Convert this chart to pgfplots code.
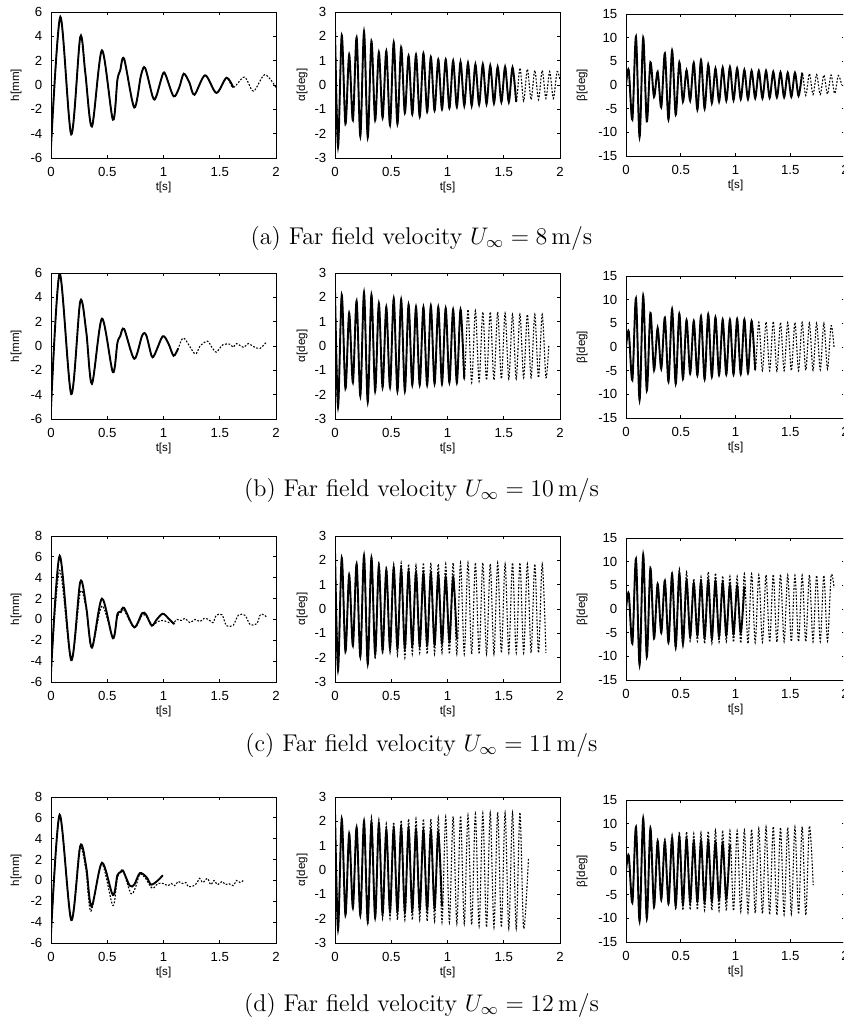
\documentclass[border=0pt]{standalone}
\usepackage{fontspec}
\usepackage{pgfplots}
\usepackage{pgfplotstable}
\pgfplotsset{compat=1.18}
\newfontfamily\gpfont{Liberation Sans}
\newcommand\tickf{\gpfont\fontsize{6.6}{7.5}\selectfont}
\newcommand\labf{\gpfont\fontsize{5.8}{6.5}\selectfont}
\newcommand\capf{\fontsize{12.1}{14}\selectfont}

% heave h [mm]
\pgfplotstableread[row sep=\\]{t y\\ 0 -5.1\\ 0.083 5.6\\ 0.180 -4.05\\ 0.260 3.95\\ 0.305 1.0\\ 0.364 -3.4\\ 0.453 2.85\\ 0.550 -2.85\\ 0.590 0.4\\ 0.615 1.2\\ 0.650 2.15\\ 0.740 -1.85\\ 0.800 0.8\\ 0.837 1.4\\ 0.905 -1.0\\ 0.935 -0.95\\ 0.994 0.9\\ 1.020 0.8\\ 1.090 -0.93\\ 1.140 -0.2\\ 1.180 0.93\\ 1.230 0.2\\ 1.275 -0.8\\ 1.370 0.8\\ 1.470 -0.65\\ 1.560 0.6\\ 1.620 -0.2\\ 1.720 0.65\\ 1.800 -0.5\\ 1.900 0.85\\ 2.000 -0.2\\}\height
\pgfplotstableread[row sep=\\]{t y\\ 0 -5.1\\ 0.077 5.95\\ 0.180 -3.95\\ 0.260 3.67\\ 0.313 1.2\\ 0.364 -3.1\\ 0.453 2.25\\ 0.550 -2.15\\ 0.590 0.25\\ 0.615 0.8\\ 0.650 1.4\\ 0.740 -1.05\\ 0.810 0.85\\ 0.846 0.9\\ 0.896 -0.85\\ 0.926 -0.6\\ 0.994 0.8\\ 1.044 0.2\\ 1.090 -0.8\\ 1.130 -0.2\\ 1.180 0.65\\ 1.280 -0.65\\ 1.325 0.0\\ 1.390 0.4\\ 1.430 -0.1\\ 1.470 -0.5\\ 1.527 0.1\\ 1.590 0.15\\ 1.620 -0.1\\ 1.650 0.2\\ 1.710 -0.1\\ 1.754 0.2\\ 1.800 -0.05\\ 1.858 -0.2\\ 1.917 0.35\\}\hten
\pgfplotstableread[row sep=\\]{t y\\ 0 -5.1\\ 0.077 6.1\\ 0.180 -3.9\\ 0.260 3.6\\ 0.313 1.2\\ 0.364 -2.7\\ 0.453 2.0\\ 0.550 -1.8\\ 0.590 0.5\\ 0.620 0.7\\ 0.650 1.1\\ 0.740 -0.75\\ 0.810 0.6\\ 0.846 0.45\\ 0.896 -0.6\\ 0.940 0.0\\ 0.994 0.55\\ 1.044 0.1\\ 1.090 -0.4\\ 1.100 -0.35\\}\helevs
\pgfplotstableread[row sep=\\]{t y\\ 0 -5.1\\ 0.077 4.7\\ 0.180 -3.9\\ 0.260 2.6\\ 0.313 1.0\\ 0.364 -2.7\\ 0.453 1.3\\ 0.550 -1.7\\ 0.590 0.2\\ 0.640 1.0\\ 0.740 -0.8\\ 0.810 0.4\\ 0.846 0.3\\ 0.900 -0.5\\ 0.950 -0.2\\ 1.000 -0.1\\ 1.050 -0.3\\ 1.100 -0.2\\ 1.120 0.0\\ 1.160 -0.1\\ 1.190 0.1\\ 1.236 -0.3\\ 1.280 0.0\\ 1.325 -0.2\\ 1.360 0.1\\ 1.400 0.0\\ 1.440 -0.3\\ 1.470 0.4\\ 1.520 0.45\\ 1.560 -0.6\\ 1.620 -0.55\\ 1.665 0.4\\ 1.725 0.4\\ 1.770 -0.5\\ 1.830 -0.4\\ 1.864 0.5\\ 1.917 0.25\\}\helevd
\pgfplotstableread[row sep=\\]{t y\\ 0 -5.1\\ 0.077 6.3\\ 0.180 -3.8\\ 0.260 3.3\\ 0.313 1.3\\ 0.360 -2.5\\ 0.453 1.7\\ 0.550 -1.4\\ 0.590 0.5\\ 0.620 0.8\\ 0.640 0.95\\ 0.700 -0.5\\ 0.740 -0.4\\ 0.790 0.7\\ 0.850 0.3\\ 0.890 -0.4\\ 0.950 0.0\\ 0.994 0.5\\}\htwes
\pgfplotstableread[row sep=\\]{t y\\ 0 -5.1\\ 0.077 6.2\\ 0.180 -3.8\\ 0.255 3.1\\ 0.310 1.0\\ 0.355 -2.95\\ 0.450 1.6\\ 0.550 -2.4\\ 0.590 0.2\\ 0.640 0.85\\ 0.710 -1.25\\ 0.750 -0.7\\ 0.790 0.6\\ 0.840 0.2\\ 0.900 -0.75\\ 0.950 -0.3\\ 1.000 -0.3\\ 1.040 -0.5\\ 1.070 -0.3\\ 1.100 -0.5\\ 1.130 -0.1\\ 1.170 -0.3\\ 1.200 -0.2\\ 1.220 -0.6\\ 1.270 -0.5\\ 1.300 -0.2\\ 1.320 0.2\\ 1.350 -0.2\\ 1.390 0.2\\ 1.420 -0.4\\ 1.450 0.0\\ 1.480 -0.4\\ 1.520 -0.1\\ 1.550 -0.4\\ 1.580 -0.3\\ 1.620 -0.5\\ 1.650 0.0\\ 1.680 -0.2\\ 1.710 0.0\\}\htwed

% pitch alpha [deg]
\pgfplotstableread[row sep=\\]{t y\\ 0 2.3\\ 0.027 -2.55\\ 0.060 2.05\\ 0.093 -1.6\\ 0.126 1.25\\ 0.159 -1.45\\ 0.192 1.95\\ 0.225 -2.1\\ 0.258 2.2\\ 0.291 -2.15\\ 0.324 1.8\\ 0.357 -1.45\\ 0.390 1.35\\ 0.423 -1.35\\ 0.456 1.4\\ 0.489 -1.65\\ 0.522 1.75\\ 0.555 -1.6\\ 0.588 1.55\\ 0.621 -1.15\\ 0.654 1.2\\ 0.687 -1.2\\ 0.720 1.25\\ 0.753 -1.3\\ 0.786 1.3\\ 0.819 -1.1\\ 0.852 1.15\\ 0.885 -1.05\\ 0.918 1.05\\ 0.951 -1.0\\ 0.984 1.05\\ 1.017 -0.95\\ 1.050 1.0\\ 1.083 -0.9\\ 1.116 0.95\\ 1.149 -0.85\\ 1.182 0.9\\ 1.215 -0.85\\ 1.248 0.85\\ 1.281 -0.8\\ 1.314 0.85\\ 1.347 -0.78\\ 1.380 0.8\\ 1.413 -0.75\\ 1.446 0.75\\ 1.479 -0.7\\ 1.512 0.75\\ 1.545 -0.7\\ 1.578 0.72\\ 1.611 -0.7\\ 1.644 0.7\\ 1.677 -0.65\\ 1.710 0.65\\ 1.743 -0.6\\ 1.776 0.6\\ 1.809 -0.6\\ 1.842 0.6\\ 1.875 -0.55\\ 1.908 0.55\\ 1.941 -0.55\\ 1.974 0.55\\ 2.000 0.2\\}\aeight
\pgfplotstableread[row sep=\\]{t y\\ 0 2.3\\ 0.027 -2.5\\ 0.060 2.1\\ 0.093 -1.75\\ 0.126 1.35\\ 0.159 -1.5\\ 0.192 1.85\\ 0.225 -2.05\\ 0.258 2.2\\ 0.291 -2.3\\ 0.324 2.1\\ 0.357 -1.85\\ 0.390 1.75\\ 0.423 -1.7\\ 0.456 1.6\\ 0.489 -1.7\\ 0.522 1.95\\ 0.555 -1.85\\ 0.588 1.9\\ 0.621 -1.85\\ 0.654 1.7\\ 0.687 -1.6\\ 0.720 1.6\\ 0.753 -1.6\\ 0.786 1.6\\ 0.819 -1.6\\ 0.852 1.65\\ 0.885 -1.55\\ 0.918 1.6\\ 0.951 -1.55\\ 0.984 1.55\\ 1.017 -1.5\\ 1.050 1.5\\ 1.083 -1.5\\ 1.116 1.5\\ 1.149 -1.35\\ 1.182 1.5\\ 1.215 -1.5\\ 1.248 1.45\\ 1.281 -1.45\\ 1.314 1.4\\ 1.347 -1.4\\ 1.380 1.4\\ 1.413 -1.4\\ 1.446 1.4\\ 1.479 -1.35\\ 1.512 1.35\\ 1.545 -1.35\\ 1.578 1.3\\ 1.611 -1.35\\ 1.644 1.3\\ 1.677 -1.3\\ 1.710 1.3\\ 1.743 -1.3\\ 1.776 1.3\\ 1.809 -1.3\\ 1.842 1.3\\ 1.875 -1.3\\ 1.900 0.0\\}\aten
\pgfplotstableread[row sep=\\]{t y\\ 0 2.4\\ 0.027 -2.5\\ 0.060 2.1\\ 0.093 -1.75\\ 0.126 1.4\\ 0.159 -1.5\\ 0.192 1.85\\ 0.225 -1.95\\ 0.258 2.2\\ 0.291 -2.25\\ 0.324 2.1\\ 0.357 -1.85\\ 0.390 1.75\\ 0.423 -1.7\\ 0.456 1.6\\ 0.489 -1.6\\ 0.522 1.7\\ 0.555 -1.6\\ 0.588 1.65\\ 0.621 -1.6\\ 0.654 1.55\\ 0.687 -1.5\\ 0.720 1.5\\ 0.753 -1.5\\ 0.786 1.45\\ 0.819 -1.45\\ 0.852 1.45\\ 0.885 -1.45\\ 0.918 1.4\\ 0.951 -1.4\\ 0.984 1.3\\ 1.017 -1.3\\ 1.050 1.3\\ 1.083 -1.25\\}\aelevs
\pgfplotstableread[row sep=\\]{t y\\ 0 2.4\\ 0.027 -2.5\\ 0.060 2.1\\ 0.093 -1.75\\ 0.126 1.4\\ 0.159 -1.5\\ 0.192 1.85\\ 0.225 -2.0\\ 0.258 2.2\\ 0.291 -2.3\\ 0.324 2.15\\ 0.357 -2.05\\ 0.390 1.95\\ 0.423 -1.85\\ 0.456 1.75\\ 0.489 -1.8\\ 0.522 1.85\\ 0.555 -1.9\\ 0.588 1.9\\ 0.621 -2.0\\ 0.654 1.85\\ 0.687 -1.85\\ 0.720 1.8\\ 0.753 -1.8\\ 0.786 1.9\\ 0.819 -1.85\\ 0.852 1.9\\ 0.885 -1.85\\ 0.918 1.85\\ 0.951 -1.8\\ 0.984 1.85\\ 1.017 -1.85\\ 1.050 1.9\\ 1.083 -1.85\\ 1.116 1.9\\ 1.149 -1.85\\ 1.182 1.9\\ 1.215 -1.85\\ 1.248 1.9\\ 1.281 -1.85\\ 1.314 1.9\\ 1.347 -1.85\\ 1.380 1.85\\ 1.413 -1.85\\ 1.446 1.9\\ 1.479 -1.8\\ 1.512 1.85\\ 1.545 -1.8\\ 1.578 1.9\\ 1.611 -1.8\\ 1.644 1.9\\ 1.677 -1.8\\ 1.710 1.85\\ 1.743 -1.8\\ 1.776 1.85\\ 1.809 -1.8\\ 1.842 1.85\\ 1.875 -1.8\\}\aelevd
\pgfplotstableread[row sep=\\]{t y\\ 0 2.4\\ 0.027 -2.45\\ 0.060 2.1\\ 0.093 -1.85\\ 0.126 1.5\\ 0.159 -1.55\\ 0.192 1.75\\ 0.225 -1.85\\ 0.258 2.0\\ 0.291 -2.1\\ 0.324 1.95\\ 0.357 -1.95\\ 0.390 1.9\\ 0.423 -1.8\\ 0.456 1.65\\ 0.489 -1.7\\ 0.522 1.7\\ 0.555 -1.7\\ 0.588 1.75\\ 0.621 -1.7\\ 0.654 1.7\\ 0.687 -1.65\\ 0.720 1.65\\ 0.753 -1.6\\ 0.786 1.6\\ 0.819 -1.6\\ 0.852 1.6\\ 0.885 -1.55\\ 0.918 1.55\\ 0.951 -1.5\\}\atwes
\pgfplotstableread[row sep=\\]{t y\\ 0 2.4\\ 0.027 -2.45\\ 0.060 2.1\\ 0.093 -1.85\\ 0.126 1.5\\ 0.159 -1.55\\ 0.192 1.75\\ 0.225 -1.9\\ 0.258 2.0\\ 0.291 -2.25\\ 0.324 2.18\\ 0.357 -2.05\\ 0.390 2.07\\ 0.423 -2.0\\ 0.456 1.9\\ 0.489 -2.0\\ 0.522 1.97\\ 0.555 -2.05\\ 0.588 2.04\\ 0.621 -2.05\\ 0.654 2.1\\ 0.687 -2.05\\ 0.720 2.1\\ 0.753 -2.05\\ 0.786 2.1\\ 0.819 -2.1\\ 0.852 2.1\\ 0.885 -2.1\\ 0.918 2.15\\ 0.951 -2.15\\ 0.984 2.18\\ 1.017 -2.15\\ 1.050 2.2\\ 1.083 -2.2\\ 1.116 2.23\\ 1.149 -2.2\\ 1.182 2.25\\ 1.215 -2.25\\ 1.248 2.3\\ 1.281 -2.3\\ 1.314 2.33\\ 1.347 -2.35\\ 1.380 2.35\\ 1.413 -2.35\\ 1.446 2.37\\ 1.479 -2.35\\ 1.512 2.35\\ 1.545 -2.4\\ 1.578 2.35\\ 1.611 -2.4\\ 1.644 2.37\\ 1.677 -2.4\\ 1.720 0.5\\}\atwed

% flap beta [deg]
\pgfplotstableread[row sep=\\]{t y\\ 0 0\\ 0.025 3.2\\ 0.058 -7.3\\ 0.091 10.2\\ 0.124 -11.0\\ 0.157 10.0\\ 0.190 -7.7\\ 0.223 4.8\\ 0.256 -2.5\\ 0.289 2.8\\ 0.322 -4.7\\ 0.355 6.7\\ 0.388 -7.3\\ 0.421 7.3\\ 0.454 -6.3\\ 0.487 4.8\\ 0.520 -3.5\\ 0.553 3.1\\ 0.586 -3.3\\ 0.619 4.7\\ 0.652 -5.2\\ 0.685 5.3\\ 0.718 -5.0\\ 0.751 4.3\\ 0.784 -3.8\\ 0.817 3.5\\ 0.850 -3.5\\ 0.883 3.7\\ 0.916 -3.3\\ 0.949 3.8\\ 0.982 -3.2\\ 1.015 3.5\\ 1.048 -3.0\\ 1.081 3.2\\ 1.114 -3.0\\ 1.147 3.0\\ 1.180 -2.8\\ 1.213 3.0\\ 1.246 -2.8\\ 1.279 3.0\\ 1.312 -2.7\\ 1.345 2.8\\ 1.378 -2.6\\ 1.411 2.7\\ 1.444 -2.6\\ 1.477 2.6\\ 1.510 -2.5\\ 1.543 2.6\\ 1.576 -2.3\\ 1.609 2.6\\ 1.642 -2.2\\ 1.675 2.4\\ 1.708 -2.0\\ 1.741 2.2\\ 1.774 -2.0\\ 1.807 2.1\\ 1.840 -1.9\\ 1.873 2.1\\ 1.906 -1.8\\ 1.939 2.0\\ 1.970 0\\}\beight
\pgfplotstableread[row sep=\\]{t y\\ 0 0\\ 0.025 3.3\\ 0.058 -7.0\\ 0.091 10.3\\ 0.124 -11.2\\ 0.157 10.8\\ 0.190 -9.2\\ 0.223 7.2\\ 0.256 -4.9\\ 0.289 4.0\\ 0.322 -4.6\\ 0.355 6.2\\ 0.388 -7.3\\ 0.421 8.0\\ 0.454 -7.8\\ 0.487 7.0\\ 0.520 -6.7\\ 0.553 5.7\\ 0.586 -5.6\\ 0.619 5.5\\ 0.652 -6.0\\ 0.685 6.5\\ 0.718 -6.8\\ 0.751 6.9\\ 0.784 -6.3\\ 0.817 6.3\\ 0.850 -5.9\\ 0.883 5.8\\ 0.916 -5.8\\ 0.949 5.8\\ 0.982 -5.8\\ 1.015 5.9\\ 1.048 -5.7\\ 1.081 5.8\\ 1.114 -5.5\\ 1.147 5.5\\ 1.180 -4.8\\ 1.213 5.2\\ 1.246 -5.0\\ 1.279 5.3\\ 1.312 -5.0\\ 1.345 5.4\\ 1.378 -5.1\\ 1.411 5.2\\ 1.444 -5.0\\ 1.477 5.2\\ 1.510 -5.0\\ 1.543 5.2\\ 1.576 -5.0\\ 1.609 5.2\\ 1.642 -4.9\\ 1.675 5.1\\ 1.708 -4.9\\ 1.741 5.1\\ 1.774 -4.8\\ 1.807 5.0\\ 1.840 -4.6\\ 1.873 4.5\\ 1.900 0\\}\bten
\pgfplotstableread[row sep=\\]{t y\\ 0 0\\ 0.025 3.3\\ 0.058 -7.3\\ 0.091 10.6\\ 0.124 -11.8\\ 0.157 11.5\\ 0.190 -10.0\\ 0.223 8.6\\ 0.256 -6.2\\ 0.289 5.3\\ 0.322 -5.0\\ 0.355 6.0\\ 0.388 -7.0\\ 0.421 7.3\\ 0.454 -8.0\\ 0.487 7.5\\ 0.520 -7.3\\ 0.553 6.0\\ 0.586 -5.8\\ 0.619 5.5\\ 0.652 -5.5\\ 0.685 5.8\\ 0.718 -6.0\\ 0.751 6.0\\ 0.784 -6.2\\ 0.817 5.8\\ 0.850 -5.8\\ 0.883 5.5\\ 0.916 -5.5\\ 0.949 5.0\\ 0.982 -5.2\\ 1.015 4.8\\ 1.048 -5.0\\ 1.081 4.8\\}\belevs
\pgfplotstableread[row sep=\\]{t y\\ 0 0\\ 0.025 3.3\\ 0.058 -7.3\\ 0.091 10.6\\ 0.124 -11.8\\ 0.157 11.5\\ 0.190 -10.3\\ 0.223 8.7\\ 0.256 -6.3\\ 0.289 5.5\\ 0.322 -5.3\\ 0.355 6.1\\ 0.388 -7.3\\ 0.421 7.8\\ 0.454 -8.5\\ 0.487 8.5\\ 0.520 -8.0\\ 0.553 7.8\\ 0.586 -6.8\\ 0.619 6.4\\ 0.652 -6.8\\ 0.685 6.8\\ 0.718 -7.3\\ 0.751 7.8\\ 0.784 -7.3\\ 0.817 7.6\\ 0.850 -7.0\\ 0.883 7.0\\ 0.916 -6.9\\ 0.949 6.9\\ 0.982 -7.0\\ 1.015 6.9\\ 1.048 -7.2\\ 1.081 7.4\\ 1.114 -7.3\\ 1.147 7.4\\ 1.180 -7.1\\ 1.213 7.2\\ 1.246 -7.0\\ 1.279 7.2\\ 1.312 -7.0\\ 1.345 7.3\\ 1.378 -7.0\\ 1.411 7.3\\ 1.444 -6.9\\ 1.477 7.2\\ 1.510 -6.9\\ 1.543 7.1\\ 1.576 -6.9\\ 1.609 7.1\\ 1.642 -6.9\\ 1.675 7.2\\ 1.708 -6.9\\ 1.741 7.1\\ 1.774 -6.9\\ 1.807 7.1\\ 1.840 -6.8\\ 1.873 7.0\\ 1.900 4.5\\}\belevd
\pgfplotstableread[row sep=\\]{t y\\ 0 0\\ 0.025 3.3\\ 0.058 -6.7\\ 0.091 9.3\\ 0.124 -10.6\\ 0.157 11.1\\ 0.190 -10.0\\ 0.223 9.0\\ 0.256 -7.5\\ 0.289 6.3\\ 0.322 -6.0\\ 0.355 6.2\\ 0.388 -6.8\\ 0.421 7.0\\ 0.454 -7.3\\ 0.487 7.3\\ 0.520 -7.0\\ 0.553 6.8\\ 0.586 -6.5\\ 0.619 6.2\\ 0.652 -6.3\\ 0.685 6.3\\ 0.718 -6.5\\ 0.751 6.3\\ 0.784 -6.3\\ 0.817 6.0\\ 0.850 -6.0\\ 0.883 5.8\\ 0.916 -5.8\\ 0.949 5.5\\}\btwes
\pgfplotstableread[row sep=\\]{t y\\ 0 0\\ 0.025 3.3\\ 0.058 -6.7\\ 0.091 9.3\\ 0.124 -10.6\\ 0.157 11.1\\ 0.190 -10.3\\ 0.223 9.2\\ 0.256 -7.8\\ 0.289 6.6\\ 0.322 -6.3\\ 0.355 6.7\\ 0.388 -7.2\\ 0.421 7.7\\ 0.454 -8.2\\ 0.487 8.3\\ 0.520 -8.3\\ 0.553 8.3\\ 0.586 -8.2\\ 0.619 7.9\\ 0.652 -8.2\\ 0.685 8.1\\ 0.718 -8.3\\ 0.751 8.4\\ 0.784 -8.3\\ 0.817 8.6\\ 0.850 -8.4\\ 0.883 8.6\\ 0.916 -8.4\\ 0.949 8.5\\ 0.982 -8.4\\ 1.015 8.5\\ 1.048 -8.6\\ 1.081 8.6\\ 1.114 -8.8\\ 1.147 8.8\\ 1.180 -8.9\\ 1.213 9.0\\ 1.246 -9.0\\ 1.279 9.3\\ 1.312 -9.2\\ 1.345 9.4\\ 1.378 -9.3\\ 1.411 9.2\\ 1.444 -9.2\\ 1.477 9.2\\ 1.510 -9.1\\ 1.543 9.3\\ 1.576 -9.1\\ 1.609 9.4\\ 1.642 -9.3\\ 1.675 9.5\\ 1.710 -3.0\\}\btwed

\pgfplotsset{
  base/.style={scale only axis, anchor=south west, xmin=0, xmax=2,
    xtick={0,0.5,1,1.5,2}, tick align=inside, major tick length=1.7pt,
    tick style={black, line width=0.45pt}, axis line style={line width=0.45pt},
    tick label style={font=\tickf}, /pgf/number format/assume math mode=true,
    xticklabel style={yshift=-1.3pt}, yticklabel style={xshift=-0.8pt},
    label style={font=\labf}, xlabel={t[s]},
    xlabel style={at={([yshift=-14.5pt]axis description cs:0.5,0)}, anchor=center}},
  colL/.style={base, width=112.5pt, height=73pt, ylabel={h[mm]},
    ylabel style={at={([xshift=-17.5pt]axis description cs:0,0.5)}, anchor=center}},
  colM/.style={base, width=112.5pt, height=73pt, ylabel={α[deg]},
    ymin=-3, ymax=3, ytick={-3,...,3},
    ylabel style={at={([xshift=-16.5pt]axis description cs:0,0.5)}, anchor=center}},
  colR/.style={base, width=109.5pt, height=71pt, ylabel={β[deg]},
    ymin=-15, ymax=15, ytick={-15,-10,...,15},
    ylabel style={at={([xshift=-22pt]axis description cs:0,0.5)}, anchor=center}},
  sim/.style={black, line width=0.55pt, dash pattern=on 0.9pt off 0.8pt, smooth},
  exp/.style={black, line width=0.95pt, smooth},
}

\begin{document}
\begin{tikzpicture}
\path[use as bounding box] (0,0) rectangle (421.5pt,-512.5pt);
\clip (0,0) rectangle (421.5pt,-512.5pt);

% (a) 8 m/s
\begin{axis}[colL, at={(25.5pt,-79pt)}, ymin=-6, ymax=6, ytick={-6,-4,...,6}]
\addplot[sim] table[x=t,y=y]{\height};
\addplot[exp, restrict x to domain=0:1.63] table[x=t,y=y]{\height};
\end{axis}
\begin{axis}[colM, at={(167.5pt,-79pt)}]
\addplot[sim] table[x=t,y=y]{\aeight};
\addplot[exp, restrict x to domain=0:1.62] table[x=t,y=y]{\aeight};
\end{axis}
\begin{axis}[colR, at={(313pt,-78pt)}]
\addplot[sim] table[x=t,y=y]{\beight};
\addplot[exp, restrict x to domain=0:1.62] table[x=t,y=y]{\beight};
\end{axis}
\node[font=\capf] at (210.75pt,-119pt) {(a) Far field velocity $U_\infty = 8\,\mathrm{m/s}$};

% (b) 10 m/s
\begin{axis}[colL, at={(25.5pt,-209.5pt)}, ymin=-6, ymax=6, ytick={-6,-4,...,6}]
\addplot[sim] table[x=t,y=y]{\hten};
\addplot[exp, restrict x to domain=0:1.16] table[x=t,y=y]{\hten};
\end{axis}
\begin{axis}[colM, at={(167.5pt,-209.5pt)}]
\addplot[sim] table[x=t,y=y]{\aten};
\addplot[exp, restrict x to domain=0:1.16] table[x=t,y=y]{\aten};
\end{axis}
\begin{axis}[colR, at={(313pt,-209pt)}]
\addplot[sim] table[x=t,y=y]{\bten};
\addplot[exp, restrict x to domain=0:1.19] table[x=t,y=y]{\bten};
\end{axis}
\node[font=\capf] at (210.75pt,-245pt) {(b) Far field velocity $U_\infty = 10\,\mathrm{m/s}$};

% (c) 11 m/s
\begin{axis}[colL, at={(25.5pt,-341pt)}, ymin=-6, ymax=8, ytick={-6,-4,...,8}]
\addplot[sim] table[x=t,y=y]{\helevd};
\addplot[exp] table[x=t,y=y]{\helevs};
\end{axis}
\begin{axis}[colM, at={(167.5pt,-341pt)}]
\addplot[sim] table[x=t,y=y]{\aelevd};
\addplot[exp] table[x=t,y=y]{\aelevs};
\end{axis}
\begin{axis}[colR, at={(313pt,-340pt)}]
\addplot[sim] table[x=t,y=y]{\belevd};
\addplot[exp] table[x=t,y=y]{\belevs};
\end{axis}
\node[font=\capf] at (210.75pt,-372.5pt) {(c) Far field velocity $U_\infty = 11\,\mathrm{m/s}$};

% (d) 12 m/s
\begin{axis}[colL, at={(25.5pt,-471.5pt)}, ymin=-6, ymax=8, ytick={-6,-4,...,8}]
\addplot[sim] table[x=t,y=y]{\htwed};
\addplot[exp] table[x=t,y=y]{\htwes};
\end{axis}
\begin{axis}[colM, at={(167.5pt,-471.5pt)}]
\addplot[sim] table[x=t,y=y]{\atwed};
\addplot[exp] table[x=t,y=y]{\atwes};
\end{axis}
\begin{axis}[colR, at={(313pt,-471pt)}]
\addplot[sim] table[x=t,y=y]{\btwed};
\addplot[exp] table[x=t,y=y]{\btwes};
\end{axis}
\node[font=\capf] at (210.75pt,-502.5pt) {(d) Far field velocity $U_\infty = 12\,\mathrm{m/s}$};
\end{tikzpicture}
\end{document}
